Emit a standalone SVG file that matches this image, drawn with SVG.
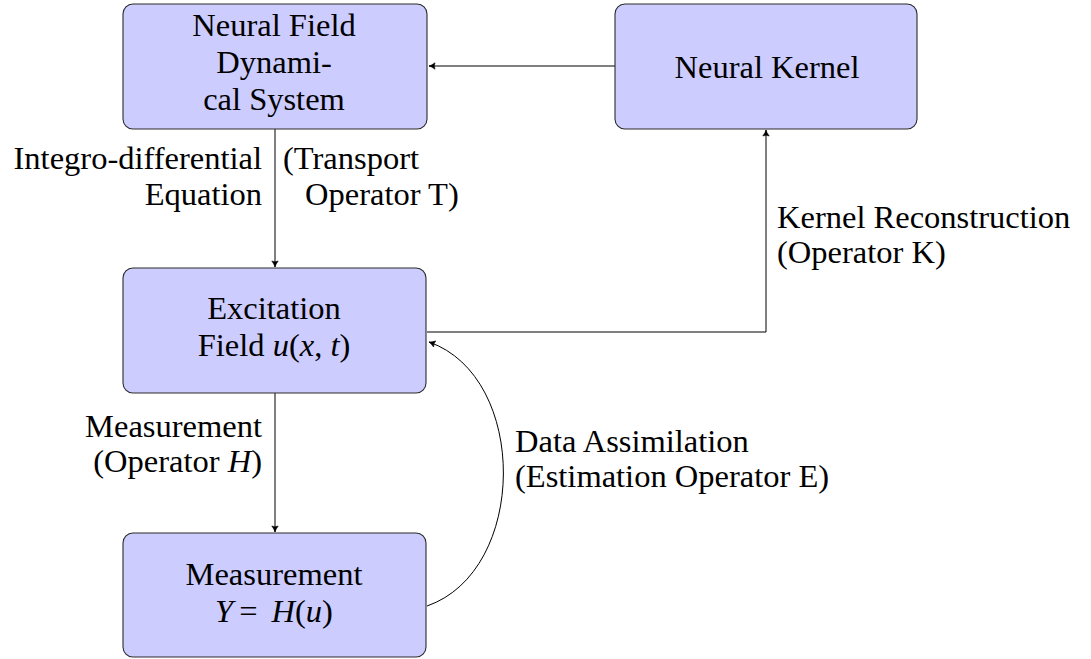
<svg xmlns="http://www.w3.org/2000/svg" width="1091" height="659" viewBox="0 0 1091 659">
<style>
.box{fill:#ccccff;stroke:#2a2a2a;stroke-width:1.1}
.t{font-family:"Liberation Serif","Times New Roman",serif;font-size:32.5px;fill:#000}
.m{text-anchor:middle}
.e{text-anchor:end}
.i{font-style:italic}
.c{fill:none;stroke:#000;stroke-width:1}
</style>
<defs>
<marker id="arr" viewBox="-8 -5 10 10" refX="0" refY="0" markerWidth="10" markerHeight="10" markerUnits="userSpaceOnUse" orient="auto">
<path d="M-6,-3.2 Q-2.5,-0.6 0,0 Q-2.5,0.6 -6,3.2 Q-4.5,0 -6,-3.2 Z" fill="#000" stroke="#000" stroke-width="0.6" stroke-linejoin="round"/>
</marker>
</defs>
<rect width="1091" height="659" fill="#fff"/>
<g id="connectors">
<path class="c" d="M615,66 L429,66" marker-end="url(#arr)"/>
<path class="c" d="M275,129 L275,267" marker-end="url(#arr)"/>
<path class="c" d="M275,393 L275,532" marker-end="url(#arr)"/>
<path class="c" d="M427,332 L766,332 L766,130" marker-end="url(#arr)"/>
<path class="c" d="M427,606 C528,571 529,377 429,342" marker-end="url(#arr)"/>
</g>
<g id="n1">
<rect class="box" x="123" y="4" width="304" height="125" rx="10"/>
<text class="t m" x="274" y="36">Neural Field</text>
<text class="t m" x="274" y="73">Dynami-</text>
<text class="t m" x="274" y="110">cal System</text>
</g>
<g id="n2">
<rect class="box" x="615" y="4" width="302" height="125" rx="10"/>
<text class="t m" x="767" y="78">Neural Kernel</text>
</g>
<g id="n3">
<rect class="box" x="123" y="268" width="303" height="125" rx="10"/>
<text class="t m" x="274" y="319">Excitation</text>
<text class="t m" x="274" y="356">Field <tspan class="i">u</tspan>(<tspan class="i">x</tspan>, <tspan class="i">t</tspan>)</text>
</g>
<g id="n4">
<rect class="box" x="123" y="533" width="303" height="124" rx="10"/>
<text class="t m" x="274" y="585">Measurement</text>
<text class="t m" x="274" y="622"><tspan class="i">Y</tspan><tspan dx="6">=</tspan><tspan class="i" dx="14">H</tspan>(<tspan class="i">u</tspan>)</text>
</g>
<g id="labels">
<text class="t e" x="262" y="169">Integro-differential</text>
<text class="t e" x="262" y="205">Equation</text>
<text class="t" x="283" y="169">(Transport</text>
<text class="t" x="305" y="205">Operator T)</text>
<text class="t" x="777" y="228">Kernel Reconstruction</text>
<text class="t" x="777" y="263">(Operator K)</text>
<text class="t e" x="262" y="437">Measurement</text>
<text class="t e" x="262" y="472">(Operator <tspan class="i">H</tspan>)</text>
<text class="t" x="515" y="452">Data Assimilation</text>
<text class="t" x="515" y="487">(Estimation Operator E)</text>
</g>
</svg>
